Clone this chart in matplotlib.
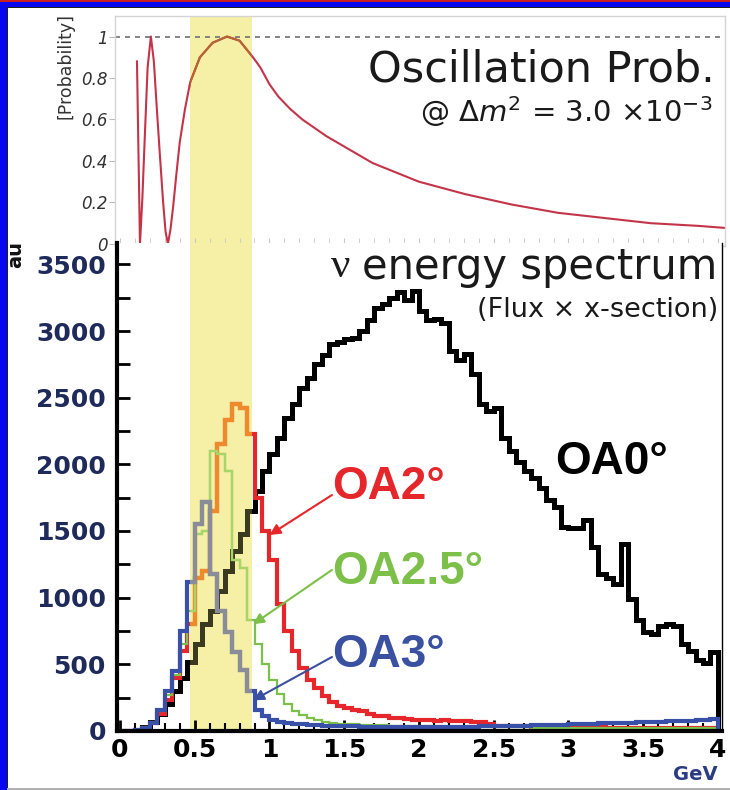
import numpy as np
import matplotlib.pyplot as plt
from matplotlib.patches import Rectangle

plt.rcParams['mathtext.fontset'] = 'custom'
plt.rcParams['mathtext.rm'] = 'DejaVu Sans'
plt.rcParams['mathtext.it'] = 'DejaVu Sans:italic'

# oscillation probability curve
osc_E = [0.114, 0.134, 0.15, 0.167, 0.185, 0.207, 0.227, 0.247, 0.268, 0.288, 0.305, 0.321,
         0.338, 0.356, 0.378, 0.40, 0.435, 0.47, 0.535, 0.62, 0.716, 0.80, 0.89, 0.94, 1.0,
         1.06, 1.14, 1.22, 1.38, 1.69, 2.0, 2.31, 2.62, 2.93, 3.24, 3.55, 3.87, 4.05]
osc_P = [0.88, 0.0, 0.22, 0.53, 0.85, 1.0, 0.88, 0.65, 0.42, 0.21, 0.06, 0.0,
         0.07, 0.18, 0.34, 0.49, 0.65, 0.78, 0.90, 0.97, 1.0, 0.98, 0.90, 0.85, 0.77,
         0.71, 0.65, 0.60, 0.52, 0.39, 0.30, 0.24, 0.19, 0.15, 0.125, 0.10, 0.087, 0.077]

# energy spectra, 0.05 GeV bins from 0 to 4 GeV
edges = np.arange(0, 4.0001, 0.05)
oa0 = [0, 0, 5, 30, 70, 130, 200, 300, 400, 520,
       650, 800, 900, 1050, 1200, 1350, 1480, 1650, 1800, 1950,
       2080, 2200, 2350, 2450, 2570, 2650, 2750, 2820, 2900, 2920,
       2940, 2950, 3000, 3080, 3170, 3200, 3250, 3290, 3230, 3300,
       3150, 3080, 3090, 3060, 2850, 2780, 2830, 2680, 2450, 2400,
       2420, 2200, 2100, 2020, 1950, 1900, 1820, 1730, 1680, 1530,
       1520, 1520, 1580, 1380, 1180, 1150, 1100, 1400, 990, 830,
       740, 730, 790, 800, 790, 650, 600, 530, 510, 590]
oa2 = [0, 0, 5, 25, 60, 130, 230, 400, 600, 800,
       1150, 1200, 1650, 2150, 2330, 2450, 2420, 2230, 1750, 1500,
       1280, 950, 750, 600, 470, 380, 320, 260, 220, 190,
       170, 160, 150, 130, 115, 110, 100, 95, 90, 85,
       82, 80, 78, 80, 75, 78, 72, 70, 65, 55,
       40, 38, 36, 35, 34, 33, 32, 31, 30, 30,
       29, 28, 28, 27, 27, 26, 26, 25, 25, 24,
       24, 23, 23, 22, 22, 21, 21, 20, 20, 20]
oa25 = [0, 0, 5, 30, 70, 150, 270, 420, 650, 900,
        1480, 1500, 2100, 2080, 1950, 1280, 1220, 830, 650, 500,
        380, 280, 200, 150, 120, 95, 80, 70, 62, 56,
        52, 50, 48, 46, 44, 42, 40, 39, 38, 37,
        36, 35, 34, 33, 32, 32, 31, 30, 30, 29,
        29, 28, 28, 27, 27, 26, 26, 26, 25, 25,
        25, 25, 24, 24, 24, 24, 24, 23, 23, 23,
        23, 23, 23, 22, 22, 22, 22, 22, 22, 22]
oa3 = [0, 0, 5, 20, 60, 160, 300, 450, 750, 1120,
       1550, 1720, 1180, 900, 740, 590, 460, 300, 160, 110,
       80, 70, 60, 55, 50, 46, 43, 40, 38, 36,
       35, 34, 33, 32, 32, 31, 31, 30, 30, 30,
       30, 30, 31, 31, 32, 32, 33, 33, 34, 35,
       36, 37, 38, 40, 41, 42, 44, 45, 47, 48,
       50, 52, 53, 55, 57, 58, 60, 62, 63, 65,
       67, 68, 70, 72, 74, 76, 78, 80, 83, 88]

band_lo, band_hi = 0.47, 0.88
yellow = '#f5f0a6'

W, H = 730, 790
fig = plt.figure(figsize=(7.3, 7.9), dpi=100)

def fx(x):
    return x / W

def fy(y):
    return 1 - y / H

# slide frame
blue = '#0808f0'
fig.add_artist(Rectangle((0, 0), fx(7), 1, transform=fig.transFigure, color=blue, lw=0))
fig.add_artist(Rectangle((0, fy(7)), 1, 7 / H, transform=fig.transFigure, color=blue, lw=0))
fig.add_artist(Rectangle((0, fy(1.5)), 1, 1.5 / H, transform=fig.transFigure, color='#c82020', lw=0))
fig.add_artist(Rectangle((fx(7), 0), 1.2 / W, fy(7), transform=fig.transFigure, color='#202020', lw=0))
fig.add_artist(Rectangle((fx(7), fy(8.2)), 1, 1.2 / H, transform=fig.transFigure, color='#202020', lw=0))
fig.add_artist(Rectangle((fx(7), 0), 1, 2 / H, transform=fig.transFigure, color='#b0b0b0', lw=0))

# ---- top panel: oscillation probability
ax1 = fig.add_axes([fx(115), fy(246), (725 - 115) / W, (246 - 16) / H])
ax1.set_xlim(-0.033, 4.047)
ax1.set_ylim(-0.01, 1.099)
ax1.axvspan(band_lo, band_hi, color=yellow, lw=0, zorder=0)
ax1.axhline(1, color='#707070', ls=(0, (3, 3)), lw=1.2, zorder=1)
ax1.plot(osc_E, osc_P, color='#c43448', lw=1.5, zorder=2)
seg, = ax1.plot(osc_E, osc_P, color='#b86434', lw=1.5, zorder=3)
seg.set_clip_path(Rectangle((band_lo, -1), band_hi - band_lo, 3, transform=ax1.transData))
for s in ax1.spines.values():
    s.set_color('#d4d4d4')
    s.set_linewidth(1)
ax1.set_yticks([0, 0.2, 0.4, 0.6, 0.8, 1])
ax1.set_yticklabels(['0', '0.2', '0.4', '0.6', '0.8', '1'], fontstyle='italic',
                    color='#333333', fontsize=12)
ax1.tick_params(axis='y', direction='out', length=4, color='#bbbbbb', pad=1)
ax1.set_xticks(np.arange(0, 4.01, 0.5))
ax1.set_xticks(np.arange(0, 4.01, 0.1), minor=True)
ax1.tick_params(axis='x', which='both', direction='in', length=6, color='#c8c8c8',
                labelbottom=False)

fig.text(fx(66), fy(66), '[Probability]', rotation=90, fontsize=12.5, color='#333333',
         ha='center', va='center')
fig.text(fx(715), fy(69), 'Oscillation Prob.', ha='right', va='center', fontsize=31,
         family='DejaVu Sans', color='#1a1a1a')
fig.text(fx(712), fy(112), '@ Δ$m^2$ = 3.0 ×10$^{-3}$', ha='right', va='center', fontsize=21,
         family='DejaVu Sans', color='#1a1a1a')

# ---- bottom panel: energy spectra
ax2 = fig.add_axes([fx(117), fy(731), (722 - 117) / W, (731 - 243) / H])
ax2.set_facecolor('white')
ax2.set_xlim(-0.02, 4.027)
ax2.set_ylim(0, 3660)
ax2.axvspan(band_lo, band_hi, color=yellow, lw=0, zorder=0)

series = [
    (oa0, 'black', '#3a3a20', 3.6),
    (oa2, '#e5262b', '#ef8a2c', 3.0),
    (oa25, '#7cc04a', '#a9d46a', 1.6),
    (oa3, '#3850a8', '#8a8c98', 3.0),
]
clip = Rectangle((band_lo, -100), band_hi - band_lo, 10000, transform=ax2.transData)
for i, (vals, col, col_in, lw) in enumerate(series):
    ax2.stairs(vals, edges, color=col, lw=lw, zorder=2 + i * 0.1)
    inb = ax2.stairs(vals, edges, color=col_in, lw=lw, zorder=2.05 + i * 0.1)
    inb.set_clip_path(clip)

ax2.spines['top'].set_visible(False)
ax2.spines['left'].set_linewidth(3)
ax2.spines['bottom'].set_linewidth(3)
ax2.spines['right'].set_linewidth(1)

ax2.set_yticks(np.arange(0, 3501, 500))
ax2.set_yticks(np.arange(250, 3600, 500), minor=True)
ax2.set_yticklabels([str(v) for v in range(0, 3501, 500)], fontweight='bold',
                    fontsize=18, color='#1e2a5a', family='DejaVu Sans')
ax2.tick_params(axis='y', which='both', direction='in', length=9, width=2, pad=8)
ax2.set_xticks(np.arange(0, 4.01, 0.5))
ax2.set_xticks(np.arange(0, 4.01, 0.1), minor=True)
ax2.set_xticklabels(['0', '0.5', '1', '1.5', '2', '2.5', '3', '3.5', '4'], fontweight='bold',
                    fontsize=18, color='black', family='DejaVu Sans')
ax2.tick_params(axis='x', which='major', direction='in', length=8, width=2, pad=5)
ax2.tick_params(axis='x', which='minor', direction='in', length=6, width=1.5)

fig.text(fx(341), fy(267), 'ν', family='Liberation Serif', fontsize=31, ha='center',
         va='center', color='#1a1a1a')
fig.text(fx(717), fy(267), 'energy spectrum', ha='right', va='center', fontsize=30,
         family='DejaVu Sans', color='#1a1a1a')
fig.text(fx(718), fy(310), '(Flux × x-section)', ha='right', va='center', fontsize=19.5,
         family='DejaVu Sans', color='#1a1a1a')

labels = [('OA0°', 555, 462, 'black'), ('OA2°', 332, 487, '#e5262b'),
          ('OA2.5°', 332, 572, '#7cc04a'), ('OA3°', 332, 655, '#3a50a0')]
for txt, x, y, col in labels:
    fig.text(fx(x), fy(y), txt, ha='left', va='center', fontsize=33, fontweight='bold',
             family='Liberation Sans', color=col)

arrows = [((1.0, 1470), (1.418, 1770), '#e5262b'),
          ((0.89, 800), (1.418, 1208), '#7cc04a'),
          ((0.89, 230), (1.418, 555), '#3a50a0')]
for head, tail, col in arrows:
    ax2.annotate('', xy=head, xytext=tail,
                 arrowprops=dict(arrowstyle='-|>', color=col, lw=1.5, mutation_scale=16,
                                 shrinkA=0, shrinkB=0), zorder=6)

fig.text(fx(695), fy(775), 'GeV', fontweight='bold', fontsize=14, color='#2b3c85',
         ha='center', va='center', family='DejaVu Sans')
fig.text(fx(16), fy(254), 'au', rotation=90, fontweight='bold', fontsize=14,
         ha='center', va='center', color='#111111')

fig.savefig('out.png', dpi=100)
